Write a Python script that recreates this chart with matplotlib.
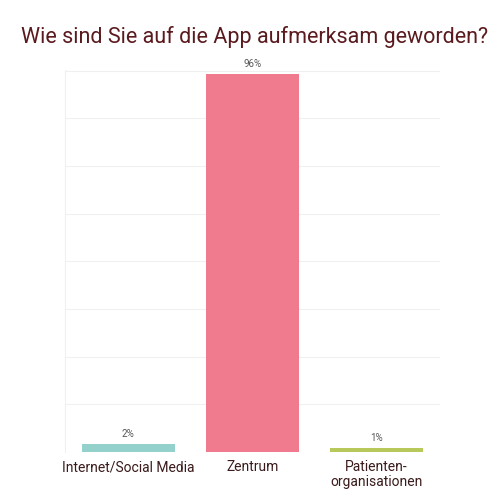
import matplotlib
matplotlib.use("Agg")
import matplotlib.pyplot as plt
import numpy as np

categories = ["Internet/Social Media", "Zentrum", "Patienten-\norganisationen"]
values = [2, 96, 1]
labels = ["2%", "96%", "1%"]
colors = ["#94d1cd", "#f07a8e", "#b8c85a"]

plt.rcParams['font.family'] = ['Roboto', 'DejaVu Sans']
fig = plt.figure(figsize=(5, 5), dpi=100)
ax = fig.add_axes([0.13, 0.096, 0.75, 0.764])
x = np.arange(len(categories))
bars = ax.bar(x, values, width=0.75, color=colors, zorder=2)
for b, l in zip(bars, labels):
    ax.text(b.get_x() + b.get_width() / 2, b.get_height() + 1.2, l,
            ha='center', va='bottom', fontsize=7, color='#555555')
ax.set_xlim(-0.51, 2.51)
ax.set_ylim(0, 97)
ax.set_yticks(np.arange(0, 97, 12.1))
ax.set_yticklabels([])
ax.tick_params(axis='y', length=0)
ax.tick_params(axis='x', length=0, labelsize=10, labelcolor='#3a1a1a', pad=6)
ax.set_xticks(x)
ax.set_xticklabels(categories, linespacing=1.1)
ax.grid(axis='y', color='#f0f0f0', linewidth=0.8, zorder=0)
for s in ['top', 'right', 'bottom']:
    ax.spines[s].set_visible(False)
ax.spines['left'].set_color('#f0f0f0')
fig.text(0.51, 0.925, "Wie sind Sie auf die App aufmerksam geworden?",
         ha='center', va='center', fontsize=15.5, color='#5a1a1e')
fig.savefig("out.png", dpi=100, facecolor='white')
